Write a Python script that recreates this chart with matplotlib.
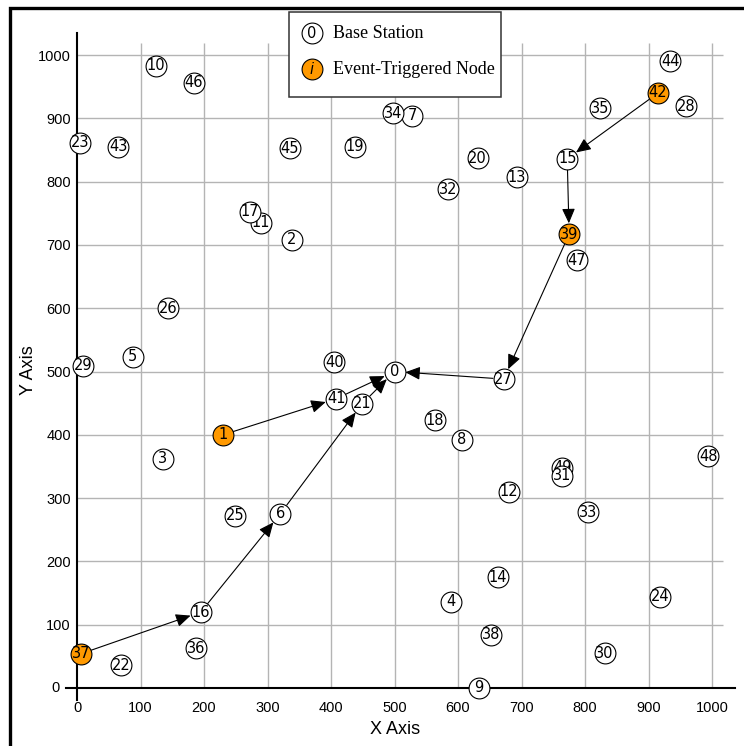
import matplotlib
matplotlib.use("Agg")
import matplotlib.pyplot as plt
from matplotlib.patches import FancyArrowPatch, Rectangle
from matplotlib.lines import Line2D

# Node coordinates (node id -> position)
node_ids = list(range(50))
node_x = [500, 230, 338, 135, 589, 88, 320, 528, 606, 633,
          124, 290, 680, 693, 663, 772, 195, 272, 564, 438,
          631, 449, 69, 5, 918, 249, 143, 672, 959, 9,
          831, 764, 584, 805, 498, 824, 187, 6, 652, 775,
          405, 408, 915, 65, 934, 335, 184, 787, 994, 764]
node_y = [500, 400, 708, 362, 136, 523, 275, 904, 392, 0,
          983, 735, 310, 807, 175, 836, 120, 752, 423, 855,
          837, 449, 36, 861, 144, 272, 600, 488, 919, 509,
          55, 335, 788, 278, 908, 916, 63, 54, 84, 717,
          515, 457, 940, 855, 990, 853, 956, 676, 366, 348]

triggered = [1, 37, 39, 42]

# Forwarding paths towards the base station (node 0)
routes = [(37, 16), (16, 6), (6, 21), (21, 0),
          (1, 41), (41, 0),
          (42, 15), (15, 39), (39, 27), (27, 0)]

ticks = list(range(0, 1001, 100))
legend_labels = ["Base Station", "Event-Triggered Node"]

ORANGE = "#FF9900"
GRID = "#b4b4b4"

W, H, DPI = 744, 746, 100
fig = plt.figure(figsize=(W / DPI, H / DPI), dpi=DPI)
ax = fig.add_axes([0, 0, 1, 1])

# data <-> pixel scale
sx, sy = 0.635, 0.633
x0_px, y0_px = 77, 688
ax.set_xlim(-x0_px / sx, (W - x0_px) / sx)
ax.set_ylim((y0_px - H) / sy, y0_px / sy)
ax.patch.set_visible(False)

# axes lines crossing at the origin
for side in ("top", "right"):
    ax.spines[side].set_visible(False)
ax.spines["left"].set_position(("data", 0))
ax.spines["bottom"].set_position(("data", 0))
ax.spines["left"].set_bounds(-19, 1035)
ax.spines["bottom"].set_bounds(-17, 1036)
for side in ("left", "bottom"):
    ax.spines[side].set_linewidth(1.5)
    ax.spines[side].set_color("black")
    ax.spines[side].set_zorder(2.5)

ax.set_xticks(ticks)
ax.set_yticks(ticks)
ax.set_xticklabels([str(t) for t in ticks])
# the y-axis "0" sits left of the extended x-axis line, drawn separately below
ax.set_yticklabels([""] + [str(t) for t in ticks[1:]])
ax.tick_params(axis="x", length=0, pad=9, labelsize=10.5)
ax.tick_params(axis="y", length=0, pad=4.5, labelsize=10.5)
for lab in ax.get_xticklabels() + ax.get_yticklabels():
    lab.set_fontfamily("Liberation Sans")
ax.text(-27, 0, "0", ha="right", va="center", fontsize=10.5,
        family="Liberation Sans")

# grid
ax.hlines(ticks[1:], 0, 1017, colors=GRID, lw=1.0, zorder=1)
ax.vlines(ticks[1:], 0, 1019, colors=GRID, lw=1.0, zorder=1)

ax.text(501, -66, "X Axis", ha="center", va="center", fontsize=13,
        family="Liberation Sans")
ax.text(-77, 502, "Y Axis", ha="center", va="center", fontsize=13,
        rotation=90, family="Liberation Sans")

# routes
for a, b in routes:
    arr = FancyArrowPatch((node_x[a], node_y[a]), (node_x[b], node_y[b]),
                          arrowstyle="-|>,head_length=0.9,head_width=0.4",
                          mutation_scale=10, shrinkA=7.8, shrinkB=7.8,
                          lw=0.8, color="black", zorder=3)
    ax.add_patch(arr)

# nodes
draw_order = [49] + [i for i in node_ids if i != 49]
for k, i in enumerate(draw_order):
    face = ORANGE if i in triggered else "white"
    z = 4 + k * 0.01
    ax.plot(node_x[i], node_y[i], marker="o", ms=15, mfc=face, mec="black",
            mew=0.8, zorder=z, clip_on=False)
    ax.text(node_x[i], node_y[i], str(i), ha="center", va="center",
            fontsize=10.5, family="DejaVu Sans", zorder=z + 0.005)

# legend box (figure pixel coordinates)
def fx(px):
    return px / W

def fy(py):
    return 1 - py / H

fig.patches.append(Rectangle((fx(289), fy(97)), fx(501) - fx(289), fy(12) - fy(97),
                             transform=fig.transFigure, facecolor="white",
                             edgecolor="#333333", lw=1.1, zorder=10))
legend_faces = ["white", ORANGE]
legend_syms = ["0", "i"]
for row, (lab, fc, sym) in enumerate(zip(legend_labels, legend_faces, legend_syms)):
    py = 33 + row * 36
    fig.lines.append(Line2D([fx(312)], [fy(py)], marker="o", ms=15, mfc=fc,
                            mec="black", mew=0.8, transform=fig.transFigure,
                            zorder=11))
    fig.text(fx(312), fy(py), sym, ha="center", va="center", fontsize=10.5,
             family="DejaVu Sans", style="italic" if sym == "i" else "normal",
             zorder=12)
    fig.text(fx(333), fy(py), lab, ha="left", va="center", fontsize=13,
             family="Liberation Serif", zorder=12)

# outer frame
fig.lines.append(Line2D([fx(10), fx(10), 1.0], [0.0, fy(8), fy(8)],
                        transform=fig.transFigure, color="black", lw=2.4,
                        solid_joinstyle="miter", zorder=20))

fig.savefig("out.png", dpi=DPI)
